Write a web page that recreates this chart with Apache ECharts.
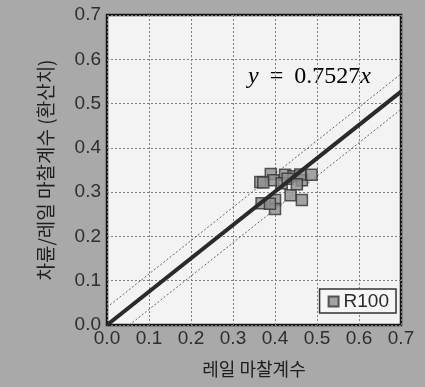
<!DOCTYPE html>
<html>
<head>
<meta charset="utf-8">
<style>
  html, body { margin: 0; padding: 0; background: #ababab; }
  #chart { width: 425px; height: 387px; }
</style>
<script src="https://cdn.jsdelivr.net/npm/echarts@6/dist/echarts.min.js"></script>
</head>
<body>
<div id="chart"></div>
<script>
// Rail friction coefficient (x) vs wheel/rail friction coefficient, converted (y)
var railFriction  = [0.365, 0.390, 0.396, 0.424, 0.416, 0.444, 0.464, 0.487, 0.437, 0.464, 0.368, 0.400, 0.400, 0.388, 0.372, 0.460, 0.430, 0.452];
var wheelFriction = [0.323, 0.341, 0.327, 0.339, 0.320, 0.336, 0.327, 0.339, 0.293, 0.282, 0.275, 0.282, 0.262, 0.274, 0.322, 0.340, 0.330, 0.318];

var fitSlope = 0.7527;      // regression through origin
var bandOffset = 0.04;      // dotted band above/below the fit line
var axisTicks = [0, 0.1, 0.2, 0.3, 0.4, 0.5, 0.6, 0.7];

var axisMin = axisTicks[0], axisMax = axisTicks[axisTicks.length - 1];
var points = railFriction.map(function (x, i) { return [x, wheelFriction[i]]; });
var fitLine = [[axisMin, fitSlope * axisMin], [axisMax, fitSlope * axisMax]];
var upperBand = [[axisMin, fitSlope * axisMin + bandOffset], [axisMax, fitSlope * axisMax + bandOffset]];
var lowerBand = [[bandOffset / fitSlope, 0], [axisMax, fitSlope * axisMax - bandOffset]];

var numFont = 'Liberation Sans, Arial, sans-serif';
var krFont = 'Noto Sans CJK KR, sans-serif';
var serifFont = 'Liberation Serif, DejaVu Serif, serif';

var chart = echarts.init(document.getElementById('chart'), null, { renderer: 'canvas' });
chart.setOption({
  animation: false,
  backgroundColor: '#a9a9a9',
  grid: {
    left: 107, right: 24, top: 15, bottom: 62,
    show: true, backgroundColor: '#f3f3f3', borderColor: '#151515', borderWidth: 2.5
  },
  xAxis: {
    type: 'value', min: axisMin, max: axisMax, interval: 0.1,
    name: '레일 마찰계수', nameLocation: 'middle', nameGap: 35,
    nameTextStyle: { fontFamily: krFont, fontSize: 18, color: '#1e1e1e' },
    axisLine: { show: false }, axisTick: { show: false },
    axisLabel: { fontFamily: numFont, fontSize: 19, color: '#2e2e2e', margin: 4,
      formatter: function (v) { return v.toFixed(1); } },
    splitLine: { show: true, lineStyle: { color: '#7f7f7f', type: [2, 2], width: 1 } }
  },
  yAxis: {
    type: 'value', min: axisMin, max: axisMax, interval: 0.1,
    name: '차륜/레일 마찰계수 (환산치)', nameLocation: 'middle', nameGap: 52,
    nameTextStyle: { fontFamily: krFont, fontSize: 19, color: '#1e1e1e' },
    axisLine: { show: false }, axisTick: { show: false },
    axisLabel: { fontFamily: numFont, fontSize: 19, color: '#2e2e2e', margin: 6,
      formatter: function (v) { return v.toFixed(1); } },
    splitLine: { show: true, lineStyle: { color: '#7f7f7f', type: [2, 2], width: 1 } }
  },
  legend: {
    data: ['R100'], right: 29, bottom: 74, orient: 'vertical',
    backgroundColor: '#f6f6f6', borderColor: '#333', borderWidth: 1.5,
    padding: [3, 7, 2, 8], itemWidth: 10, itemHeight: 10, itemGap: 4,
    textStyle: { fontFamily: numFont, fontSize: 19, color: '#2a2a2a' }
  },
  series: [
    {
      type: 'line', data: upperBand, symbol: 'none', silent: true,
      lineStyle: { color: '#666', width: 1, type: [2, 2] }, clip: true, z: 2
    },
    {
      type: 'line', data: lowerBand, symbol: 'none', silent: true,
      lineStyle: { color: '#666', width: 1, type: [2, 2] }, clip: true, z: 2
    },
    {
      name: 'R100', type: 'scatter', data: points, symbol: 'rect', symbolSize: 11,
      itemStyle: { color: '#8f8f8f', borderColor: '#333', borderWidth: 1.5 }, z: 3
    },
    {
      type: 'line', data: fitLine, symbol: 'none', silent: true,
      lineStyle: { color: '#2a2a2a', width: 4 }, clip: true, z: 4
    }
  ],
  graphic: [{
    type: 'text', left: 248, top: 65, silent: true,
    style: {
      text: '{i|y}{eq|=}{u|0.7527}{i|x}',
      rich: {
        i: { fontFamily: serifFont, fontStyle: 'italic', fontSize: 24, color: '#1e1e1e' },
        eq: { fontFamily: serifFont, fontSize: 24, color: '#111', padding: [0, 11, 0, 11] },
        u: { fontFamily: serifFont, fontSize: 24, color: '#1e1e1e' }
      }
    }
  }]
});
</script>
</body>
</html>
